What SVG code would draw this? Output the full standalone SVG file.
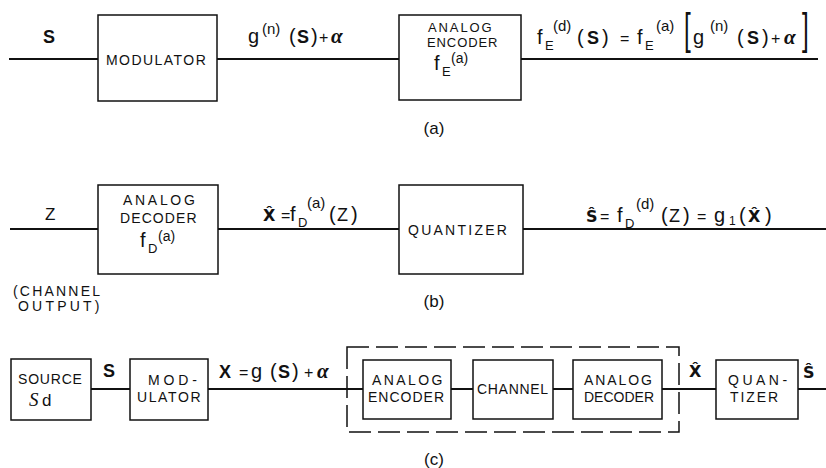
<svg xmlns="http://www.w3.org/2000/svg" width="826" height="468" viewBox="0 0 826 468">
<style>
.box{fill:#fff;stroke:#111;stroke-width:1.5}
.wire{stroke:#111;stroke-width:2;fill:none}
.dash{fill:none;stroke:#111;stroke-width:1.5;stroke-dasharray:22 7}
.lbl{font-family:"Liberation Sans",Arial,sans-serif;font-size:14px;fill:#111}
.mt{font-family:"Liberation Sans",Arial,sans-serif;font-size:20px;fill:#111}
.b{font-weight:bold;font-size:18px}
.hb{font-family:"DejaVu Sans",sans-serif;font-weight:bold;font-size:16px}
.sup{font-size:15px}
.sub{font-size:13px}
.op{font-size:16px}
.al{font-family:"Liberation Serif","Times New Roman",serif;font-weight:bold;font-style:italic;font-size:21px}
.cap{font-family:"Liberation Sans",Arial,sans-serif;font-size:17px;fill:#111}
.br{font-family:"Liberation Sans",Arial,sans-serif;font-size:44px;fill:#111}
</style>

<g id="connectors">
<line class="wire" x1="9" y1="59" x2="98" y2="59"/>
<line class="wire" x1="217" y1="59" x2="399" y2="59"/>
<line class="wire" x1="521" y1="59" x2="818" y2="59"/>
<line class="wire" x1="10" y1="229" x2="98" y2="229"/>
<line class="wire" x1="218" y1="229" x2="399" y2="229"/>
<line class="wire" x1="523" y1="229" x2="826" y2="229"/>
<line class="wire" x1="91" y1="389" x2="130" y2="389"/>
<line class="wire" x1="208" y1="389" x2="363" y2="389"/>
<line class="wire" x1="451" y1="389" x2="473" y2="389"/>
<line class="wire" x1="553" y1="389" x2="573" y2="389"/>
<line class="wire" x1="662" y1="389" x2="716" y2="389"/>
<line class="wire" x1="798" y1="389" x2="826" y2="389"/>
</g>

<!-- Row (a) -->
<g id="modulator-a">
<rect class="box" x="98" y="15" width="119" height="86"/>
<text class="lbl" x="106" y="65" style="letter-spacing:1.45px">MODULATOR</text>
</g>
<g id="encoder-a">
<rect class="box" x="399" y="15" width="122" height="85"/>
<text class="lbl" style="font-size:13px"><tspan x="428" y="32" style="letter-spacing:1.9px">ANALOG</tspan><tspan x="427" y="47" style="letter-spacing:0.9px">ENCODER</tspan></text>
<text class="mt"><tspan x="434" y="70">f</tspan><tspan class="sub" x="442" y="76">E</tspan><tspan class="sup" style="font-size:14px" x="451" y="63">(a)</tspan></text>
</g>
<g id="labels-a">
<text class="mt" x="43" y="43"><tspan class="b">S</tspan></text>
<text class="mt"><tspan x="248" y="43">g</tspan><tspan class="sup" x="262" y="34">(n)</tspan><tspan x="289" y="43">(</tspan><tspan class="b" x="297" y="43">S</tspan><tspan x="311" y="43">)</tspan><tspan class="op" x="319" y="43">+</tspan><tspan class="al" x="331" y="43">α</tspan></text>

<text class="mt"><tspan x="537" y="44">f</tspan><tspan class="sub" x="545" y="50">E</tspan><tspan class="sup" x="553" y="31">(d)</tspan><tspan x="577" y="44">(</tspan><tspan class="b" x="587" y="44">S</tspan><tspan x="602" y="44">)</tspan><tspan class="op" x="620" y="44">=</tspan><tspan x="637" y="44">f</tspan><tspan class="sub" x="645" y="50">E</tspan><tspan class="sup" x="656" y="31">(a)</tspan><tspan x="693" y="44">g</tspan><tspan class="sup" x="710" y="31">(n)</tspan><tspan x="737" y="44">(</tspan><tspan class="b" x="747" y="44">S</tspan><tspan x="762" y="44">)</tspan><tspan class="op" x="771" y="44">+</tspan><tspan class="al" x="784" y="44">α</tspan></text>
<text class="br" transform="translate(684,44) scale(0.55,1)">[</text>
<text class="br" transform="translate(802,44) scale(0.55,1)">]</text>
<text class="cap" x="434" y="134" text-anchor="middle">(a)</text>
</g>

<!-- Row (b) -->
<g id="decoder-b">
<rect class="box" x="98" y="185" width="120" height="89"/>
<text class="lbl"><tspan x="123" y="205" style="letter-spacing:2.7px">ANALOG</tspan><tspan x="120" y="223" style="letter-spacing:1.1px">DECODER</tspan></text>
<text class="mt"><tspan x="140" y="247">f</tspan><tspan class="sub" x="148" y="253">D</tspan><tspan class="sup" style="font-size:14px" x="158" y="241">(a)</tspan></text>
</g>
<g id="quantizer-b">
<rect class="box" x="399" y="185" width="124" height="89"/>
<text class="lbl" x="408" y="235" style="letter-spacing:2.25px">QUANTIZER</text>
</g>
<g id="labels-b">
<text class="mt" x="45" y="220" style="font-size:17px">Z</text>
<text class="lbl"><tspan x="13" y="296" style="letter-spacing:2.2px">(CHANNEL</tspan><tspan x="18" y="311" style="letter-spacing:3.2px">OUTPUT)</tspan></text>

<text class="mt"><tspan class="hb" x="263" y="221">X̂</tspan><tspan class="op" x="281" y="221">=</tspan><tspan x="290" y="221">f</tspan><tspan class="sub" x="298" y="227">D</tspan><tspan class="sup" x="307" y="208">(a)</tspan><tspan x="329" y="221">(</tspan><tspan style="font-size:18px" x="337" y="221">Z</tspan><tspan x="351" y="221">)</tspan></text>

<text class="mt"><tspan class="hb" x="586" y="222">Ŝ</tspan><tspan class="op" x="600" y="222">=</tspan><tspan x="617" y="222">f</tspan><tspan class="sub" x="625" y="228">D</tspan><tspan class="sup" x="636" y="209">(d)</tspan><tspan x="661" y="222">(</tspan><tspan style="font-size:18px" x="669" y="222">Z</tspan><tspan x="683" y="222">)</tspan><tspan class="op" x="697" y="222">=</tspan><tspan x="714" y="222">g</tspan><tspan style="font-size:12px" x="729" y="225">1</tspan><tspan x="739" y="222">(</tspan><tspan class="hb" x="748" y="222">X̂</tspan><tspan x="765" y="222">)</tspan></text>
<text class="cap" x="434" y="307" text-anchor="middle">(b)</text>
</g>

<!-- Row (c) -->
<g id="source-c">
<rect class="box" x="11" y="359" width="80" height="61"/>
<text class="lbl" x="18" y="384" style="letter-spacing:0.8px">SOURCE</text>
<text class="mt"><tspan x="29" y="406" style="font-family:'Liberation Serif',serif;font-style:italic;font-size:19px">S</tspan><tspan x="42" y="406" style="font-size:17px">d</tspan></text>
</g>
<g id="modulator-c">
<rect class="box" x="130" y="359" width="78" height="61"/>
<text class="lbl"><tspan x="148" y="385" style="letter-spacing:3.9px">MOD-</tspan><tspan x="137" y="402" style="letter-spacing:1.6px">ULATOR</tspan></text>
</g>
<g id="channel-group-c">
<rect class="dash" x="347" y="347" width="332" height="85"/>
</g>
<g id="encoder-c">
<rect class="box" x="363" y="360" width="88" height="59"/>
<text class="lbl"><tspan x="372" y="385" style="letter-spacing:2.4px">ANALOG</tspan><tspan x="368" y="402" style="letter-spacing:1px">ENCODER</tspan></text>
</g>
<g id="channel-c">
<rect class="box" x="473" y="360" width="80" height="59"/>
<text class="lbl" x="477" y="394" style="letter-spacing:0.7px">CHANNEL</text>
</g>
<g id="decoder-c">
<rect class="box" x="573" y="360" width="89" height="59"/>
<text class="lbl"><tspan x="584" y="385" style="letter-spacing:1.9px">ANALOG</tspan><tspan x="584" y="402">DECODER</tspan></text>
</g>
<g id="quantizer-c">
<rect class="box" x="716" y="360" width="82" height="59"/>
<text class="lbl"><tspan x="728" y="385" style="letter-spacing:3.5px">QUAN-</tspan><tspan x="730" y="402" style="letter-spacing:1.9px">TIZER</tspan></text>
</g>
<g id="labels-c">
<text class="mt" x="103" y="377"><tspan class="b">S</tspan></text>
<text class="mt"><tspan class="b" x="219" y="378">X</tspan><tspan class="op" x="239" y="378">=</tspan><tspan x="251" y="378">g</tspan><tspan x="270" y="378">(</tspan><tspan class="b" x="278" y="378">S</tspan><tspan x="292" y="378">)</tspan><tspan class="op" x="304" y="378">+</tspan><tspan class="al" x="317" y="378">α</tspan></text>
<text class="mt"><tspan class="hb" x="689" y="377">X̂</tspan></text>
<text class="mt"><tspan class="hb" x="803" y="378">Ŝ</tspan></text>
<text class="cap" x="434" y="465" text-anchor="middle">(c)</text>
</g>
</svg>
